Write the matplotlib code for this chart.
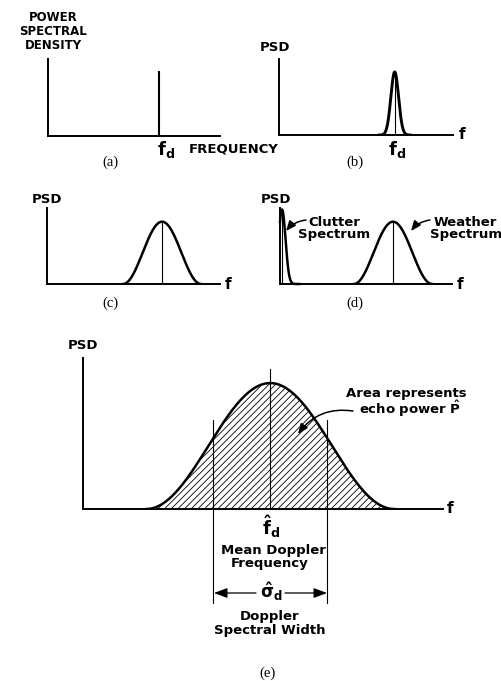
"""Doppler power spectral density sketches, panels (a)-(e)."""
import numpy as np
import matplotlib

matplotlib.use("Agg")
import matplotlib.pyplot as plt

W, H = 501, 681

plt.rcParams["font.family"] = ["DejaVu Sans"]
plt.rcParams["font.weight"] = "bold"
plt.rcParams["mathtext.fontset"] = "custom"
plt.rcParams["mathtext.rm"] = "DejaVu Sans:bold"
plt.rcParams["mathtext.it"] = "DejaVu Sans:bold"
plt.rcParams["mathtext.bf"] = "DejaVu Sans:bold"
plt.rcParams["mathtext.default"] = "rm"
plt.rcParams["hatch.linewidth"] = 0.6

# ── Data: positions as fractions of each panel's frequency / PSD axis ──
PANEL_TAGS = ["(a)", "(b)", "(c)", "(d)", "(e)"]
PEAK_CENTERS = [0.645, 0.665, 0.665, 0.657, 0.52]   # mean Doppler f_d
PEAK_HEIGHTS = [0.83, 0.83, 0.82, 0.82, 0.834]
NARROW_SIGMA_B = 0.022                               # line-like echo in (b)
BELL_HALF_WIDTHS = [0.225, 0.227, 0.344]             # (c), (d), (e) support
SPECTRAL_WIDTH_E = 0.158                             # sigma_d markers in (e)
CLUTTER_CENTER = 0.012
CLUTTER_WIDTH = 0.02
CLUTTER_HEIGHT = 0.98

# panel boxes in pixels: left, top, right, bottom of the axis lines
BOXES = [(48, 59, 220, 136), (279, 59, 453, 135), (47, 208, 220, 284),
         (280, 208, 452, 284), (83, 358, 443, 509)]

AXIS_LW = 1.4
CURVE_LW = 1.8
THIN_LW = 0.8
SERIF = ["Liberation Serif", "DejaVu Serif"]


def fx(x):
    return x / W


def fy(y):
    return 1 - y / H


def panel_axes(fig, box):
    l, t, r, b = box
    ax = fig.add_axes([fx(l), fy(b), (r - l) / W, (b - t) / H])
    ax.set_xlim(0, 1)
    ax.set_ylim(0, 1)
    for side in ("top", "right"):
        ax.spines[side].set_visible(False)
    for side in ("left", "bottom"):
        ax.spines[side].set_linewidth(AXIS_LW)
    ax.set_xticks([])
    ax.set_yticks([])
    ax.patch.set_alpha(0)
    return ax


def gauss(x, c, s, h):
    return h * np.exp(-0.5 * ((x - c) / s) ** 2)


def bell(c, w, h, n=400):
    """Smooth bell shape that meets the baseline at c +/- w."""
    x = np.linspace(c - w, c + w, n)
    return x, h * np.cos(np.pi * (x - c) / (2 * w)) ** 2


def label(fig, x, y, s, size, **kw):
    kw.setdefault("ha", "center")
    kw.setdefault("va", "baseline")
    fig.text(fx(x), fy(y), s, fontsize=size, fontweight="bold", **kw)


def tag(fig, x, y, s):
    fig.text(fx(x), fy(y), s, fontsize=10.5, family=SERIF,
             fontweight="normal", ha="center", va="baseline")


fig = plt.figure(figsize=(W / 100, H / 100), dpi=100)
fig.patch.set_facecolor("white")
axes = [panel_axes(fig, b) for b in BOXES]

# ── (a) single line spectrum ──
ax = axes[0]
ax.plot([PEAK_CENTERS[0]] * 2, [0, PEAK_HEIGHTS[0]], color="black", lw=1.5)
label(fig, 53, 21, "POWER", 8.5)
label(fig, 53, 35, "SPECTRAL", 8.5)
label(fig, 53, 49, "DENSITY", 8.5)
label(fig, 166, 155, r"$\mathrm{f_d}$", 13)
label(fig, 234, 153, "FREQUENCY", 9.5)
tag(fig, 110, 166, PANEL_TAGS[0])

# ── (b) narrow spectrum ──
ax = axes[1]
c, h = PEAK_CENTERS[1], PEAK_HEIGHTS[1]
x = np.linspace(c - 4 * NARROW_SIGMA_B, c + 4 * NARROW_SIGMA_B, 200)
ax.plot(x, gauss(x, c, NARROW_SIGMA_B, h), color="black", lw=CURVE_LW + 0.3)
ax.plot([c, c], [0, h], color="black", lw=THIN_LW)
label(fig, 275, 51, "PSD", 9.5)
label(fig, 462, 139, "f", 11)
label(fig, 397, 155, r"$\mathrm{f_d}$", 13)
tag(fig, 355, 166, PANEL_TAGS[1])

# ── (c) broad weather spectrum ──
ax = axes[2]
c, h = PEAK_CENTERS[2], PEAK_HEIGHTS[2]
ax.plot(*bell(c, BELL_HALF_WIDTHS[0], h), color="black", lw=CURVE_LW)
ax.plot([c, c], [0, h], color="black", lw=THIN_LW)
label(fig, 47, 203, "PSD", 9.5)
label(fig, 228, 289, "f", 11)
tag(fig, 110, 307, PANEL_TAGS[2])

# ── (d) clutter plus weather ──
ax = axes[3]
c, h = PEAK_CENTERS[3], PEAK_HEIGHTS[3]
ax.plot(*bell(c, BELL_HALF_WIDTHS[1], h), color="black", lw=CURVE_LW)
ax.plot([c, c], [0, h], color="black", lw=THIN_LW)
xc = np.linspace(0, CLUTTER_CENTER + 5 * CLUTTER_WIDTH, 200)
ax.plot(xc, gauss(xc, CLUTTER_CENTER, CLUTTER_WIDTH, CLUTTER_HEIGHT),
        color="black", lw=CURVE_LW, clip_on=False)
ax.plot([CLUTTER_CENTER] * 2, [0, CLUTTER_HEIGHT], color="black", lw=THIN_LW)
label(fig, 276, 203, "PSD", 9.5)
label(fig, 460, 289, "f", 11)
label(fig, 334, 226, "Clutter", 9.5)
label(fig, 334, 238, "Spectrum", 9.5)
label(fig, 465, 226, "Weather", 9.5)
label(fig, 466, 238, "Spectrum", 9.5)
arrow = dict(arrowstyle="-|>,head_length=0.6,head_width=0.25", lw=1.1,
             color="black", shrinkA=0, shrinkB=0, mutation_scale=10,
             connectionstyle="arc3,rad=0.2")
ax.annotate("", xy=(fx(286), fy(231)), xycoords="figure fraction",
            xytext=(fx(306), fy(220)), textcoords="figure fraction",
            arrowprops=arrow)
ax.annotate("", xy=(fx(411), fy(231)), xycoords="figure fraction",
            xytext=(fx(430), fy(220)), textcoords="figure fraction",
            arrowprops=arrow)
tag(fig, 355, 307, PANEL_TAGS[3])

# ── (e) mean Doppler frequency and spectral width ──
ax = axes[4]
c, h = PEAK_CENTERS[4], PEAK_HEIGHTS[4]
x, y = bell(c, BELL_HALF_WIDTHS[2], h)
ax.fill_between(x, 0, y, facecolor="none", edgecolor="black", hatch="/////",
                lw=0)
ax.plot(x, y, color="black", lw=CURVE_LW)
ax.plot([c, c], [0, 0.93], color="black", lw=THIN_LW)
for xe in (c - SPECTRAL_WIDTH_E, c + SPECTRAL_WIDTH_E):
    ax.plot([xe, xe], [-0.62, 0.59], color="black", lw=THIN_LW, clip_on=False)
label(fig, 83, 349, "PSD", 9.5)
label(fig, 450, 513, "f", 11)
label(fig, 406, 397, "Area represents", 9.5)
label(fig, 410, 414, r"echo power $\hat{\mathrm{P}}$", 9.5)
ax.annotate("", xy=(fx(298), fy(434)), xycoords="figure fraction",
            xytext=(fx(353), fy(411)), textcoords="figure fraction",
            arrowprops=dict(arrow, connectionstyle="arc3,rad=0.3"))
label(fig, 271, 535, r"$\hat{\mathrm{f}}_{\mathrm{d}}$", 13)
label(fig, 273, 554, "Mean Doppler", 9.5)
label(fig, 270, 567, "Frequency", 9.5)
label(fig, 271, 598, r"$\hat{\sigma}_{\mathrm{d}}$", 12)
span = dict(arrowstyle="-|>,head_length=0.8,head_width=0.3", lw=0.9,
            color="black", shrinkA=0, shrinkB=0, mutation_scale=10)
ax.annotate("", xy=(fx(214), fy(593)), xycoords="figure fraction",
            xytext=(fx(256), fy(593)), textcoords="figure fraction",
            arrowprops=span)
ax.annotate("", xy=(fx(327), fy(593)), xycoords="figure fraction",
            xytext=(fx(285), fy(593)), textcoords="figure fraction",
            arrowprops=span)
label(fig, 270, 620, "Doppler", 9.5)
label(fig, 270, 634, "Spectral Width", 9.5)
tag(fig, 267, 677, PANEL_TAGS[4])

fig.savefig("out.png", dpi=100, facecolor="white")
